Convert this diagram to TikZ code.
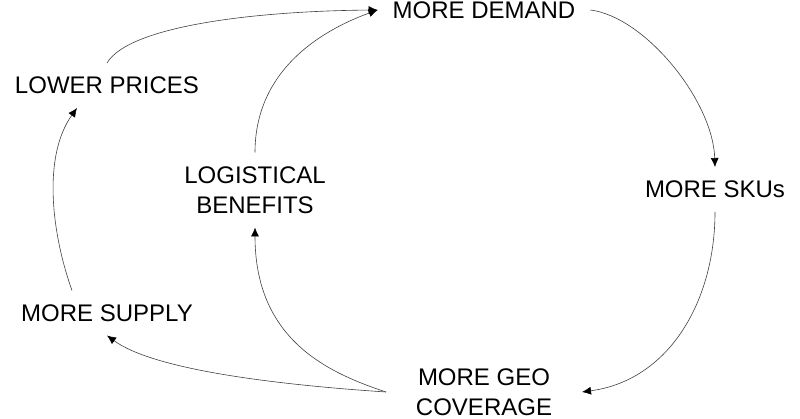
\documentclass[tikz,border=0pt]{standalone}
\usepackage{fontspec}
\setmainfont{Liberation Sans}
\usetikzlibrary{arrows.meta}

\begin{document}
\begin{tikzpicture}[x=1pt,y=1pt,
    every node/.style={inner sep=0pt,outer xsep=15pt,outer ysep=14pt,align=center,font=\fontsize{24}{30}\selectfont},
    link/.style={draw=black!75,line width=0.6pt,-{Latex[length=9pt,width=8pt,color=black]}}]
    \useasboundingbox (0,0) rectangle (800,419);

    % Knoten
    \node (demand) at (484,409) {MORE DEMAND};
    \node (skus) at (715,229.5) {MORE SKUs};
    \node (geo) at (484,27) [outer xsep=30pt] {MORE GEO\\COVERAGE};
    \node (supply) at (107,106) {MORE SUPPLY};
    \node (prices) at (107,333.5) {LOWER PRICES};
    \node (benefits) at (255,229) {LOGISTICAL\\BENEFITS};

    % Pfeile
    \draw[link] (prices.north) .. controls +(22,37) and +(-123,-1) .. (demand.west);
    \draw[link] (benefits.north) .. controls +(0,88) and +(-47,-17) .. (demand.west);
    \draw[link] (demand.east) .. controls +(55,-7) and +(-2,66) .. (skus.north);
    \draw[link] (skus.south) .. controls +(0,-88) and +(88,12) .. (geo.east);
    \draw[link] (geo.west) .. controls +(-120,8) and +(45,-33) .. (supply.south);
    \draw[link] (geo.west) .. controls +(-57,19) and +(0,-113) .. (benefits.south);
    \draw[link] ([xshift=-35pt]supply.north) .. controls +(-20,56) and +(-35,-49) .. ([xshift=-30pt]prices.south);
\end{tikzpicture}
\end{document}
